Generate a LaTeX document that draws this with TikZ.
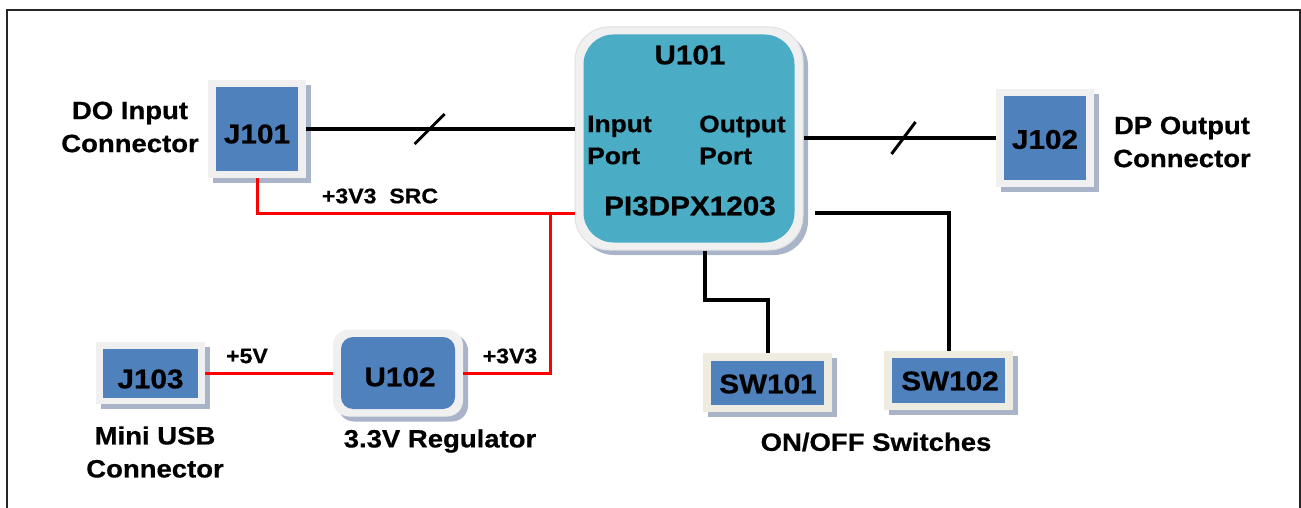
\documentclass[tikz,border=0pt]{standalone}
\usepackage{fontspec}
\setmainfont{Liberation Sans}[FakeStretch=1.1, BoldFeatures={FakeBold=0.6}]
\usetikzlibrary{shadows,calc}
\definecolor{boxblue}{HTML}{4F81BD}
\definecolor{teal}{HTML}{4BACC6}
\definecolor{frameg}{HTML}{F0F0F0}
\definecolor{beige}{HTML}{EEECE1}
\definecolor{shad}{HTML}{A9B4C8}
\definecolor{wred}{HTML}{FF0000}
\begin{document}
\begin{tikzpicture}[x=1pt,y=-1pt,
  outerbox/.style={fill=frameg, inner sep=0, drop shadow={shadow xshift=5pt, shadow yshift=-5pt, fill=shad, opacity=1}},
  innerbox/.style={fill=boxblue, inner sep=0},
  txt/.style={inner sep=0, font=\bfseries\fontsize{27}{30}\selectfont},
  port/.style={inner sep=0, anchor=west, align=left, font=\bfseries\fontsize{24}{32}\selectfont},
  lbl/.style={font=\bfseries\fontsize{25}{33}\selectfont, align=center, inner sep=0},
  small/.style={font=\bfseries\fontsize{21}{24}\selectfont, inner sep=0},
  sig/.style={line width=4pt, black},
  pwr/.style={line width=3pt, wred},
  slashmark/.style={line width=3pt, black}]
\useasboundingbox (0,0) rectangle (1301,508);
\draw[line width=2.5pt, black!85] (7,530) -- (7,10) -- (1300,10) -- (1300,530);

% boxes
\node[outerbox, minimum width=98, minimum height=98] (j101) at (257,129) {};
\node[innerbox, minimum width=82, minimum height=83] (j101i) at (257,129) {};
\node[txt] (j101t) at (257,134) {J101};
\node[outerbox, minimum width=98, minimum height=98] (j102) at (1045,138) {};
\node[innerbox, minimum width=82, minimum height=83] (j102i) at (1045,138) {};
\node[txt] (j102t) at (1045,139.5) {J102};
\node[outerbox, minimum width=109, minimum height=62] (j103) at (150.5,373) {};
\node[innerbox, minimum width=95, minimum height=49] (j103i) at (150.5,373) {};
\node[txt] (j103t) at (150.5,379) {J103};
\node[outerbox, rounded corners=16, minimum width=130, minimum height=87] (u102) at (398,373) {};
\node[innerbox, rounded corners=12, minimum width=114, minimum height=72] (u102i) at (398,373) {};
\node[txt] (u102t) at (400,377) {U102};
\node[outerbox, fill=beige, minimum width=129, minimum height=59] (sw101) at (767.5,382.5) {};
\node[innerbox, minimum width=113, minimum height=44] (sw101i) at (767.5,382.5) {};
\node[txt] (sw101t) at (768,384) {SW101};
\node[outerbox, fill=beige, minimum width=129, minimum height=59] (sw102) at (948.5,380.5) {};
\node[innerbox, minimum width=113, minimum height=45] (sw102i) at (948.5,380.5) {};
\node[txt] (sw102t) at (950,381) {SW102};
\node[outerbox, draw=black!12, line width=1pt, rounded corners=34, minimum width=228, minimum height=223] (u101) at (689,138.5) {};
\node[innerbox, fill=teal, rounded corners=30, minimum width=211, minimum height=208] (u101i) at (689,138.5) {};
\node[txt] (u101t) at (690,55) {U101};
\node[port] (inp) at (587,140) {Input\\Port};
\node[port] (outp) at (699,140) {Output\\Port};
\node[txt] (pi) at (690,206) {PI3DPX1203};

% labels
\node[lbl] (l1) at (130,127) {DO Input\\Connector};
\node[lbl] (l2) at (1182,142) {DP Output\\Connector};
\node[lbl] (l3) at (155,452) {Mini USB\\Connector};
\node[lbl] (l4) at (440,441) {3.3V Regulator};
\node[lbl] (l5) at (876,442) {ON/OFF Switches};
\node[small] (s1) at (380,196) {+3V3\ \ SRC};
\node[small] (s2) at (510,356) {+3V3};
\node[small] (s3) at (247,356) {+5V};

% connectors
\draw[sig] (j101.east) -- (u101.west |- j101.east) coordinate[pos=0.46] (m1);
\draw[slashmark] ($(m1)+(-15,15)$) -- ($(m1)+(15,-15)$);
\draw[sig] (u101.east |- j102.west) -- (j102.west) coordinate[pos=0.52] (m2);
\draw[slashmark] ($(m2)+(-12,16)$) -- ($(m2)+(12,-16)$);

\coordinate (r1) at (257,213);
\coordinate (rj) at (550,213);
\draw[pwr] (j101.south) -- (r1) -- (u101.west |- r1);
\draw[pwr] (rj) |- (u102.east);
\draw[pwr] (j103.east) -- (u102.west);

\coordinate (b1) at (705,300);
\draw[sig] (u101.south -| b1) -- (b1) -| (sw101.north);
\coordinate (b2) at (815,213);
\draw[sig] (b2) -| (sw102.north);
\end{tikzpicture}
\end{document}
